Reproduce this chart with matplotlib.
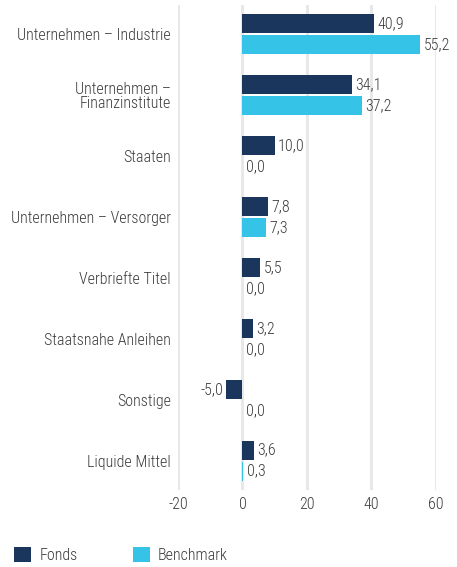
import matplotlib
matplotlib.use("Agg")
import matplotlib.pyplot as plt
from matplotlib.patches import Patch
import numpy as np

categories = ["Unternehmen – Industrie", "Unternehmen –\nFinanzinstitute", "Staaten",
              "Unternehmen – Versorger", "Verbriefte Titel", "Staatsnahe Anleihen",
              "Sonstige", "Liquide Mittel"]
fonds = [40.9, 34.1, 10.0, 7.8, 5.5, 3.2, -5.0, 3.6]
benchmark = [55.2, 37.2, 0.0, 7.3, 0.0, 0.0, 0.0, 0.3]
xticks = [-20, 0, 20, 40, 60]

plt.rcParams['font.family'] = ['Roboto Condensed', 'DejaVu Sans']
plt.rcParams['font.weight'] = 'light'
C_F = "#1b365d"
C_B = "#35c4e8"
TXT = "#3c3c3c"
FS = 11.5

fig = plt.figure(figsize=(4.57, 5.67), dpi=100)
ax = fig.add_axes([0.3895, 0.136, 0.5645, 0.855])

y = np.arange(len(categories))
h = 0.31
gap = 0.017
ax.barh(y - h/2 - gap, fonds, height=h, color=C_F, zorder=3)
ax.barh(y + h/2 + gap, benchmark, height=h, color=C_B, zorder=3)

def fmt(v):
    return f"{v:.1f}".replace('.', ',')

for yi, v in zip(y, fonds):
    if v >= 0:
        ax.text(v + 1.0, yi - h/2 - gap, fmt(v), va='center', ha='left', fontsize=FS, color=TXT, zorder=4)
    else:
        ax.text(v - 1.0, yi - h/2 - gap, fmt(v), va='center', ha='right', fontsize=FS, color=TXT, zorder=4)
for yi, v in zip(y, benchmark):
    ax.text(max(v, 0) + 1.0, yi + h/2 + gap, fmt(v), va='center', ha='left', fontsize=FS, color=TXT, zorder=4)

ax.set_xlim(-20, 60)
ax.set_ylim(len(categories) - 0.52, -0.48)
ax.set_xticks(xticks)
ax.set_xticklabels([str(t) for t in xticks])
ax.set_yticks(y)
ax.set_yticklabels(categories, ha='right', multialignment='right', linespacing=0.95)
ax.tick_params(axis='both', length=0, labelsize=FS, colors=TXT)
ax.tick_params(axis='y', pad=5)
ax.tick_params(axis='x', pad=5)
for s in ax.spines.values():
    s.set_visible(False)
ax.xaxis.grid(True, color="#e8e8e8", linewidth=2.2, zorder=0)
ax.set_axisbelow(True)

handles = [Patch(facecolor=C_F, label="Fonds"), Patch(facecolor=C_B, label="Benchmark")]
fig.legend(handles=handles, loc='lower left', bbox_to_anchor=(0.0, -0.018), ncol=2, frameon=False,
           fontsize=FS, handlelength=1.05, handleheight=1.05, columnspacing=3.5, handletextpad=0.5,
           labelcolor=TXT)

fig.savefig("out.png", dpi=100)
